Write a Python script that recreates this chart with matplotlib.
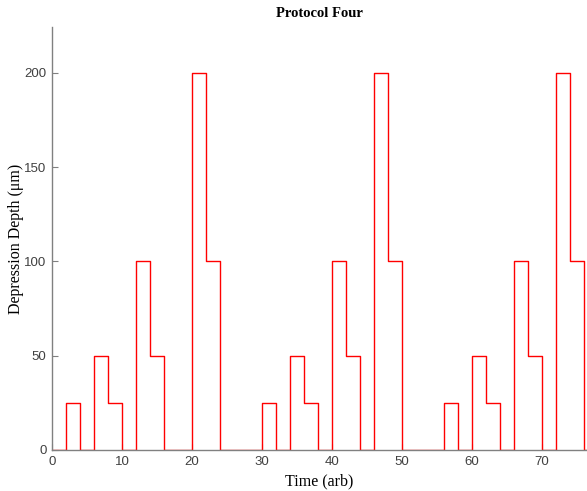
import numpy as np
import matplotlib
matplotlib.use("Agg")
from matplotlib import pyplot as plt

# depth level held over each 2-unit interval, starting at t = 0
step_width = 2
depths = [0, 25, 0, 50, 25, 0, 100, 50, 0, 0, 200, 100, 0, 0, 0,
          25, 0, 50, 25, 0, 100, 50, 0, 200, 100, 0, 0, 0,
          25, 0, 50, 25, 0, 100, 50, 0, 200, 100, 0]
xticks = [0, 10, 20, 30, 40, 50, 60, 70]
yticks = [0, 50, 100, 150, 200]

edges = np.arange(len(depths) + 1) * step_width
vals = np.append(depths, depths[-1])

fig = plt.figure(figsize=(5.87, 4.91), dpi=100)
ax = fig.add_axes([52 / 587, 41 / 491, 1 - 52 / 587, 423 / 491])

ax.step(edges, vals, where="post", color="red", lw=1.0)

ax.set_xlim(0, (587 - 52) / 7)
ax.set_ylim(0, 224.4)
ax.set_xticks(xticks)
ax.set_yticks(yticks)

for s in ["top", "right"]:
    ax.spines[s].set_visible(False)
for s in ["left", "bottom"]:
    ax.spines[s].set_color("#808080")
    ax.spines[s].set_linewidth(1.0)
ax.tick_params(direction="in", length=4, color="#808080", labelcolor="#404040",
               labelsize=9.5, pad=4)
for lab in ax.get_xticklabels() + ax.get_yticklabels():
    lab.set_family("Liberation Sans")

ax.set_xlabel("Time (arb)", family="Liberation Serif", fontsize=11.5, labelpad=4)
ax.set_ylabel("Depression Depth (\u03bcm)", family="Liberation Serif", fontsize=11.5,
              labelpad=0)
ax.set_title("Protocol Four", family="Liberation Serif", fontsize=10.5,
             fontweight="bold", pad=7)

fig.savefig("out.png", dpi=100)
